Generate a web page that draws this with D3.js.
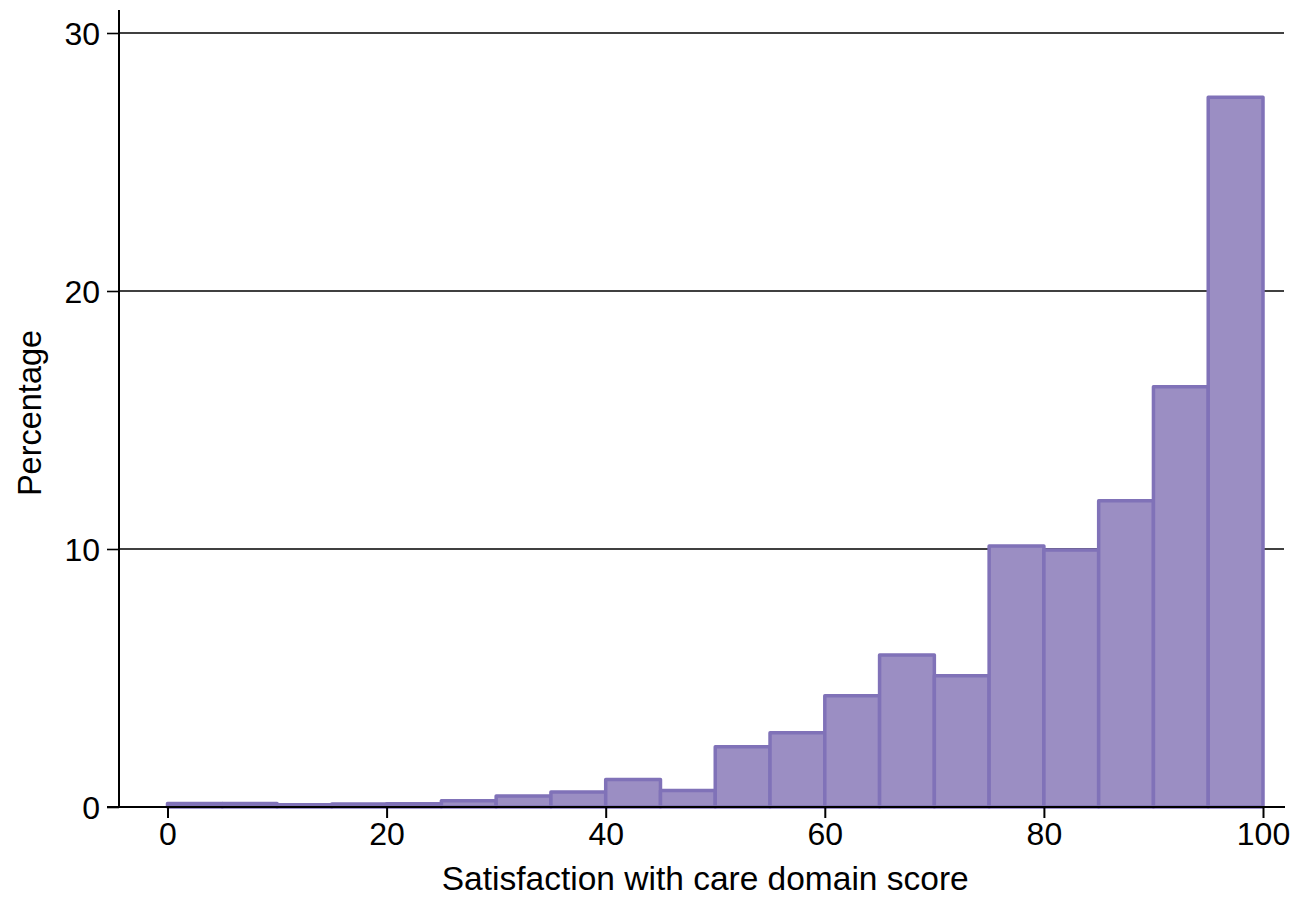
<!DOCTYPE html>
<html>
<head>
<meta charset="utf-8">
<script src="https://cdn.jsdelivr.net/npm/d3@7"></script>
<style>
  body { margin: 0; background: #fff; }
  text { font-family: "Liberation Sans", Arial, sans-serif; fill: #000; }
</style>
</head>
<body>
<div id="chart"></div>
<script>
// bin edges (width 5) and percentage in each bin
var binStarts = [0, 5, 10, 15, 20, 25, 30, 35, 40, 45, 50, 55, 60, 65, 70, 75, 80, 85, 90, 95];
var binWidth = 5;
var percents = [0.14, 0.14, 0.09, 0.12, 0.13, 0.24, 0.43, 0.58, 1.07, 0.64, 2.34, 2.88, 4.31, 5.89, 5.09, 10.12, 9.96, 11.87, 16.29, 27.51];
var xTicks = [0, 20, 40, 60, 80, 100];
var yTicks = [0, 10, 20, 30];

var width = 1298, height = 898;

var svg = d3.select("#chart")
    .append("svg")
    .attr("width", width)
    .attr("height", height);

var x = d3.scaleLinear().domain([0, 100]).range([167.5, 1263]);
var y = d3.scaleLinear().domain([0, 30]).range([807, 33]);

var axisLeftX = 119;
var gridRight = 1284;

// gridlines
svg.selectAll(".grid")
    .data(yTicks.filter(function(d) { return d > 0; }))
    .enter()
    .append("line")
    .attr("x1", axisLeftX)
    .attr("x2", gridRight)
    .attr("y1", function(d) { return y(d); })
    .attr("y2", function(d) { return y(d); })
    .attr("stroke", "#000")
    .attr("stroke-width", 1.6);

// bars
var bins = binStarts.map(function(s, i) { return {x0: s, x1: s + binWidth, v: percents[i]}; });
svg.selectAll(".bar")
    .data(bins)
    .enter()
    .append("rect")
    .attr("x", function(d) { return x(d.x0); })
    .attr("width", function(d) { return x(d.x1) - x(d.x0); })
    .attr("y", function(d) { return y(d.v); })
    .attr("height", function(d) { return y(0) - y(d.v); })
    .attr("fill", "#9b8ec3")
    .attr("stroke", "#8072b8")
    .attr("stroke-width", 3.5)
    .attr("stroke-linejoin", "round");

// y axis
var yAxis = d3.axisLeft(y).tickValues(yTicks).tickSize(12).tickPadding(7).tickFormat(d3.format("d"));
var gy = svg.append("g")
    .attr("transform", "translate(" + axisLeftX + ",0)")
    .call(yAxis);
gy.select(".domain").remove();
gy.append("line")
    .attr("x1", 0).attr("x2", 0)
    .attr("y1", 10).attr("y2", 808)
    .attr("stroke", "#000").attr("stroke-width", 2);
gy.selectAll(".tick line").attr("stroke", "#000").attr("stroke-width", 1.6);
gy.selectAll(".tick text").style("font-size", "32px").attr("dy", "0.36em");

// x axis
var xAxis = d3.axisBottom(x).tickValues(xTicks).tickSize(11).tickPadding(4).tickFormat(d3.format("d"));
var gx = svg.append("g")
    .attr("transform", "translate(0," + y(0) + ")")
    .call(xAxis);
gx.select(".domain").remove();
gx.append("line")
    .attr("x1", 107).attr("x2", 1285)
    .attr("y1", 0).attr("y2", 0)
    .attr("stroke", "#000").attr("stroke-width", 2.2);
gx.selectAll(".tick line").attr("stroke", "#000").attr("stroke-width", 2);
gx.selectAll(".tick text").style("font-size", "32px");

// axis titles
svg.append("text")
    .attr("x", (x(0) + x(100)) / 2 - 10)
    .attr("y", 890)
    .attr("text-anchor", "middle")
    .style("font-size", "33.5px")
    .text("Satisfaction with care domain score");

svg.append("text")
    .attr("transform", "translate(41,413) rotate(-90)")
    .attr("text-anchor", "middle")
    .style("font-size", "32.5px")
    .text("Percentage");
</script>
</body>
</html>
